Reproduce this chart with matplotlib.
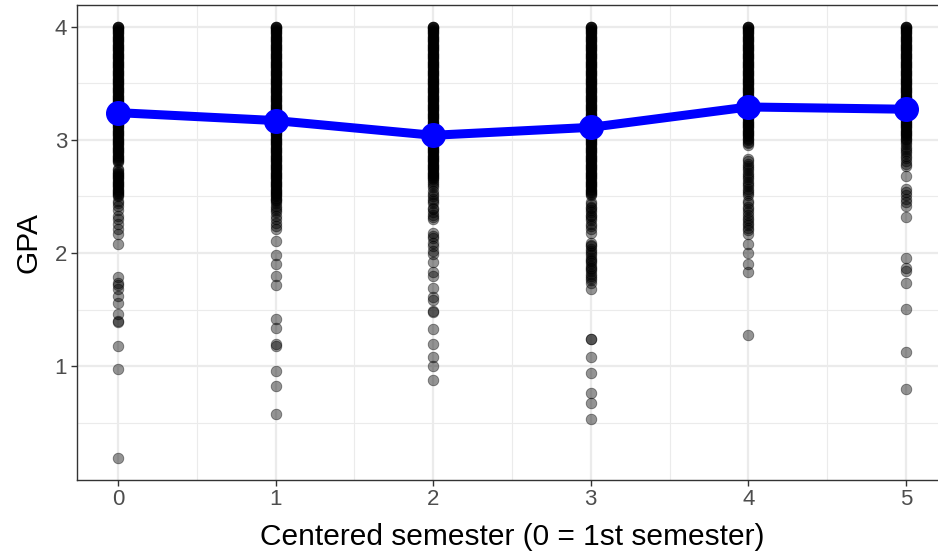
import matplotlib
matplotlib.use("Agg")
import matplotlib.pyplot as plt
import numpy as np

plt.rcParams['font.family'] = ['Liberation Sans', 'DejaVu Sans']

# GPA observations per centered semester
semesters = [0, 1, 2, 3, 4, 5]

gpa_sem0 = [4.00, 4.00, 4.00, 3.99, 3.98, 3.97, 3.96, 3.95, 3.94, 3.93, 3.92, 3.91, 3.90,
            3.89, 3.88, 3.87, 3.86, 3.85, 3.84, 3.83, 3.82, 3.81, 3.80,
            3.79, 3.78, 3.77, 3.76, 3.75, 3.74, 3.73, 3.72, 3.71, 3.70,
            3.69, 3.68, 3.67, 3.66, 3.65, 3.64, 3.63, 3.62, 3.61, 3.60,
            3.59, 3.58, 3.57, 3.56, 3.55, 3.54, 3.53, 3.52, 3.51, 3.50,
            3.49, 3.48, 3.47, 3.46, 3.45, 3.44, 3.43, 3.42, 3.41, 3.40,
            3.39, 3.38, 3.37, 3.36, 3.35, 3.34, 3.33, 3.32, 3.31, 3.30,
            3.29, 3.28, 3.27, 3.26, 3.25, 3.24, 3.23, 3.22, 3.21, 3.20,
            3.19, 3.18, 3.17, 3.16, 3.15, 3.14, 3.13, 3.12, 3.11, 3.10,
            3.09, 3.08, 3.07, 3.06, 3.05, 3.04, 3.03, 3.02, 3.01, 3.00,
            2.99, 2.98, 2.97, 2.96, 2.95, 2.94, 2.93, 2.92, 2.91, 2.90,
            2.89, 2.88, 2.87, 2.86, 2.85, 2.84, 2.83, 2.82, 2.81, 2.80,
            2.74, 2.73, 2.72, 2.71, 2.70, 2.69, 2.68, 2.67, 2.66, 2.65,
            2.64, 2.63, 2.62, 2.61, 2.60, 2.59, 2.58, 2.57, 2.56, 2.55,
            2.54, 2.53, 2.52, 2.51, 2.50, 2.46, 2.44, 2.42, 2.38, 2.33,
            2.30, 2.26, 2.21, 2.17, 2.08, 1.79, 1.74, 1.72, 1.68, 1.62,
            1.56, 1.46, 1.40, 1.39, 1.18, 0.98, 0.19]

gpa_sem1 = [4.00, 4.00, 4.00, 3.99, 3.98, 3.97, 3.96, 3.95, 3.94, 3.93, 3.92, 3.91, 3.90,
            3.89, 3.88, 3.87, 3.86, 3.85, 3.84, 3.83, 3.82, 3.81, 3.80,
            3.79, 3.78, 3.77, 3.76, 3.75, 3.74, 3.73, 3.72, 3.71, 3.70,
            3.69, 3.68, 3.67, 3.66, 3.65, 3.64, 3.63, 3.62, 3.61, 3.60,
            3.59, 3.58, 3.57, 3.56, 3.55, 3.54, 3.53, 3.52, 3.51, 3.50,
            3.49, 3.48, 3.47, 3.46, 3.45, 3.44, 3.43, 3.42, 3.41, 3.40,
            3.39, 3.38, 3.37, 3.36, 3.35, 3.34, 3.33, 3.32, 3.31, 3.30,
            3.29, 3.28, 3.27, 3.26, 3.25, 3.24, 3.23, 3.22, 3.21, 3.20,
            3.19, 3.18, 3.17, 3.16, 3.15, 3.14, 3.13, 3.12, 3.11, 3.10,
            3.09, 3.08, 3.07, 3.06, 3.05, 3.04, 3.03, 3.02, 3.01, 3.00,
            2.99, 2.98, 2.97, 2.96, 2.95, 2.94, 2.93, 2.92, 2.91, 2.90,
            2.89, 2.88, 2.87, 2.86, 2.85, 2.84, 2.83, 2.82, 2.81, 2.80,
            2.79, 2.78, 2.77, 2.76, 2.75, 2.74, 2.73, 2.72, 2.71, 2.70,
            2.69, 2.68, 2.67, 2.66, 2.65, 2.64, 2.63, 2.62, 2.61, 2.60,
            2.59, 2.58, 2.57, 2.56, 2.55, 2.54, 2.53, 2.52, 2.51, 2.50,
            2.49, 2.48, 2.47, 2.46, 2.44, 2.42, 2.40, 2.38, 2.36, 2.33,
            2.30, 2.27, 2.24, 2.21, 2.11, 1.98, 1.90, 1.80, 1.72, 1.42,
            1.34, 1.20, 1.18, 0.96, 0.83, 0.58]

gpa_sem2 = [4.00, 4.00, 4.00, 3.99, 3.98, 3.97, 3.96, 3.95, 3.94, 3.93, 3.92, 3.91, 3.90,
            3.89, 3.88, 3.87, 3.86, 3.85, 3.84, 3.83, 3.82, 3.81, 3.80,
            3.79, 3.78, 3.77, 3.76, 3.75, 3.74, 3.73, 3.72, 3.71, 3.70,
            3.69, 3.68, 3.67, 3.66, 3.65, 3.64, 3.63, 3.62, 3.61, 3.60,
            3.59, 3.58, 3.57, 3.56, 3.55, 3.54, 3.53, 3.52, 3.51, 3.50,
            3.49, 3.48, 3.47, 3.46, 3.45, 3.44, 3.43, 3.42, 3.41, 3.40,
            3.39, 3.38, 3.37, 3.36, 3.35, 3.34, 3.33, 3.32, 3.31, 3.30,
            3.29, 3.28, 3.27, 3.26, 3.25, 3.24, 3.23, 3.22, 3.21, 3.20,
            3.19, 3.18, 3.17, 3.16, 3.15, 3.14, 3.13, 3.12, 3.11, 3.10,
            3.09, 3.08, 3.07, 3.06, 3.05, 3.04, 3.03, 3.02, 3.01, 3.00,
            2.99, 2.98, 2.97, 2.96, 2.95, 2.94, 2.93, 2.92, 2.91, 2.90,
            2.89, 2.88, 2.87, 2.86, 2.85, 2.84, 2.83, 2.82, 2.81, 2.80,
            2.79, 2.78, 2.77, 2.76, 2.75, 2.74, 2.73, 2.72, 2.71, 2.70,
            2.69, 2.68, 2.67, 2.66, 2.65, 2.64, 2.62, 2.60, 2.58, 2.55,
            2.52, 2.50, 2.48, 2.46, 2.44, 2.40, 2.39, 2.36, 2.34, 2.32,
            2.30, 2.18, 2.15, 2.13, 2.09, 2.06, 2.02, 1.99, 1.92, 1.83,
            1.80, 1.69, 1.61, 1.59, 1.49, 1.48, 1.33, 1.20, 1.08, 1.00,
            0.88]

gpa_sem3 = [4.00, 4.00, 4.00, 3.99, 3.98, 3.97, 3.96, 3.95, 3.94, 3.93, 3.92, 3.91, 3.90,
            3.89, 3.88, 3.87, 3.86, 3.85, 3.84, 3.83, 3.82, 3.81, 3.80,
            3.79, 3.78, 3.77, 3.76, 3.75, 3.74, 3.73, 3.72, 3.71, 3.70,
            3.69, 3.68, 3.67, 3.66, 3.65, 3.64, 3.63, 3.62, 3.61, 3.60,
            3.59, 3.58, 3.57, 3.56, 3.55, 3.54, 3.53, 3.52, 3.51, 3.50,
            3.49, 3.48, 3.47, 3.46, 3.45, 3.44, 3.43, 3.42, 3.41, 3.40,
            3.39, 3.38, 3.37, 3.36, 3.35, 3.34, 3.33, 3.32, 3.31, 3.30,
            3.29, 3.28, 3.27, 3.26, 3.25, 3.24, 3.23, 3.22, 3.21, 3.20,
            3.19, 3.18, 3.17, 3.16, 3.15, 3.14, 3.13, 3.12, 3.11, 3.10,
            3.09, 3.08, 3.07, 3.06, 3.05, 3.04, 3.03, 3.02, 3.01, 3.00,
            2.99, 2.98, 2.97, 2.96, 2.95, 2.94, 2.93, 2.92, 2.91, 2.90,
            2.89, 2.88, 2.87, 2.86, 2.85, 2.84, 2.83, 2.82, 2.81, 2.80,
            2.79, 2.78, 2.77, 2.76, 2.75, 2.74, 2.73, 2.72, 2.71, 2.70,
            2.69, 2.68, 2.67, 2.66, 2.65, 2.64, 2.63, 2.62, 2.61, 2.60,
            2.59, 2.58, 2.57, 2.56, 2.55, 2.54, 2.53, 2.52, 2.51, 2.45,
            2.43, 2.41, 2.40, 2.38, 2.36, 2.34, 2.33, 2.31, 2.29, 2.26,
            2.24, 2.21, 2.18, 2.09, 2.07, 2.06, 2.04, 2.02, 2.00, 1.98,
            1.96, 1.94, 1.93, 1.91, 1.89, 1.87, 1.86, 1.84, 1.82, 1.80,
            1.78, 1.76, 1.74, 1.68, 1.24, 1.24, 1.08, 0.94, 0.77, 0.68,
            0.54]

gpa_sem4 = [4.00, 4.00, 4.00, 3.99, 3.98, 3.97, 3.96, 3.95, 3.94, 3.93, 3.92, 3.91, 3.90,
            3.89, 3.88, 3.87, 3.86, 3.85, 3.84, 3.83, 3.82, 3.81, 3.80,
            3.79, 3.78, 3.77, 3.76, 3.75, 3.74, 3.73, 3.72, 3.71, 3.70,
            3.69, 3.68, 3.67, 3.66, 3.65, 3.64, 3.63, 3.62, 3.61, 3.60,
            3.59, 3.58, 3.57, 3.56, 3.55, 3.54, 3.53, 3.52, 3.51, 3.50,
            3.49, 3.48, 3.47, 3.46, 3.45, 3.44, 3.43, 3.42, 3.41, 3.40,
            3.39, 3.38, 3.37, 3.36, 3.35, 3.34, 3.33, 3.32, 3.31, 3.30,
            3.29, 3.28, 3.27, 3.26, 3.25, 3.24, 3.23, 3.22, 3.21, 3.20,
            3.19, 3.18, 3.17, 3.16, 3.15, 3.14, 3.13, 3.12, 3.11, 3.10,
            3.09, 3.08, 3.07, 3.06, 3.05, 3.04, 3.03, 3.02, 3.01, 3.00,
            2.98, 2.97, 2.95, 2.83, 2.81, 2.79, 2.77, 2.75, 2.73, 2.71,
            2.69, 2.67, 2.65, 2.63, 2.61, 2.59, 2.57, 2.55, 2.53, 2.51,
            2.46, 2.44, 2.41, 2.39, 2.36, 2.34, 2.31, 2.29, 2.27, 2.25,
            2.22, 2.20, 2.17, 2.08, 2.00, 1.90, 1.83, 1.28]

gpa_sem5 = [4.00, 4.00, 4.00, 3.99, 3.98, 3.97, 3.96, 3.95, 3.94, 3.93, 3.92, 3.91, 3.90,
            3.89, 3.88, 3.87, 3.86, 3.85, 3.84, 3.83, 3.82, 3.81, 3.80,
            3.79, 3.78, 3.77, 3.76, 3.75, 3.74, 3.73, 3.72, 3.71, 3.70,
            3.69, 3.68, 3.67, 3.66, 3.65, 3.64, 3.63, 3.62, 3.61, 3.60,
            3.59, 3.58, 3.57, 3.56, 3.55, 3.54, 3.53, 3.52, 3.51, 3.50,
            3.49, 3.48, 3.47, 3.46, 3.45, 3.44, 3.43, 3.42, 3.41, 3.40,
            3.39, 3.38, 3.37, 3.36, 3.35, 3.34, 3.33, 3.32, 3.31, 3.30,
            3.29, 3.28, 3.27, 3.26, 3.25, 3.24, 3.23, 3.22, 3.21, 3.20,
            3.19, 3.18, 3.17, 3.16, 3.15, 3.14, 3.13, 3.12, 3.11, 3.10,
            3.09, 3.08, 3.07, 3.06, 3.05, 3.04, 3.03, 3.02, 3.01, 3.00,
            2.98, 2.96, 2.94, 2.92, 2.90, 2.88, 2.86, 2.84, 2.81, 2.79,
            2.77, 2.68, 2.57, 2.54, 2.51, 2.48, 2.45, 2.42, 2.32, 1.96,
            1.87, 1.84, 1.74, 1.51, 1.13, 0.80]

# Mean GPA per semester
mean_gpa = [3.24, 3.17, 3.04, 3.11, 3.29, 3.27]

all_gpa = [gpa_sem0, gpa_sem1, gpa_sem2, gpa_sem3, gpa_sem4, gpa_sem5]

fig = plt.figure(figsize=(9.38, 5.54), dpi=100)
# panel runs slightly past the right edge of the canvas
ax = fig.add_axes([0.082, 0.134, 0.9275, 0.857])

for sem, vals in zip(semesters, all_gpa):
    ax.scatter(np.full(len(vals), sem), vals, s=58,
               facecolor=(0, 0, 0, 0.42), edgecolor=(0, 0, 0, 0.45),
               linewidths=0.6, zorder=3)

ax.plot(semesters, mean_gpa, color='#0000FF', linewidth=6.5, marker='o',
        markersize=17, solid_capstyle='butt', zorder=4)

ax.set_xlim(-0.26, 5.26)
ax.set_ylim(0.0, 4.19)
ax.set_xticks(semesters)
ax.set_yticks([1, 2, 3, 4])
ax.set_xticks([0.5, 1.5, 2.5, 3.5, 4.5], minor=True)
ax.set_yticks([0.5, 1.5, 2.5, 3.5], minor=True)

ax.grid(which='major', color='#EBEBEB', linewidth=1.6, zorder=0)
ax.grid(which='minor', color='#EBEBEB', linewidth=0.8, zorder=0)
ax.set_axisbelow(True)

for sp in ax.spines.values():
    sp.set_color('#333333')
    sp.set_linewidth(1.0)

ax.tick_params(which='major', length=4, width=1.0, color='#333333',
               labelcolor='#4D4D4D', labelsize=16, pad=3)
ax.tick_params(which='minor', length=0)

ax.set_xlabel('Centered semester (0 = 1st semester)', fontsize=21.5, color='black', labelpad=9)
ax.set_ylabel('GPA', fontsize=21.5, color='black', labelpad=9)

fig.savefig('out.png', dpi=100)
